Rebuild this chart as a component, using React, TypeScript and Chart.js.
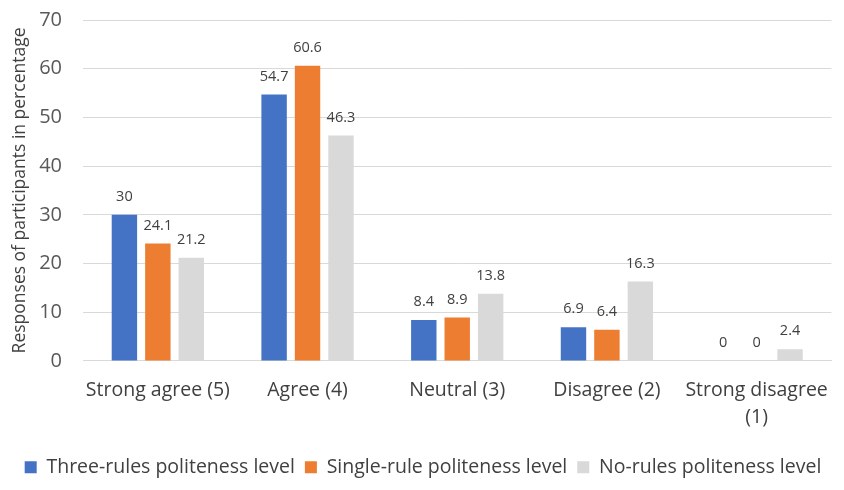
import React, { useEffect, useRef } from "react";
import { Chart, registerables } from "chart.js";

Chart.register(...registerables);

const categories: (string | string[])[] = [
  "Strong agree (5)",
  "Agree (4)",
  "Neutral (3)",
  "Disagree (2)",
  ["Strong disagree", "(1)"],
];
const threeRules = [30, 54.7, 8.4, 6.9, 0];
const singleRule = [24.1, 60.6, 8.9, 6.4, 0];
const noRules = [21.2, 46.3, 13.8, 16.3, 2.4];
const seriesNames = [
  "Three-rules politeness level",
  "Single-rule politeness level",
  "No-rules politeness level",
];
const yTicks = [0, 10, 20, 30, 40, 50, 60, 70];

const FONT = "'Open Sans', 'Noto Sans', sans-serif";

// Writes each bar's value just above it
const valueLabels = {
  id: "valueLabels",
  afterDatasetsDraw(chart: any) {
    const ctx = chart.ctx;
    ctx.save();
    ctx.font = `14.5px ${FONT}`;
    ctx.fillStyle = "#404040";
    ctx.textAlign = "center";
    ctx.textBaseline = "middle";
    chart.data.datasets.forEach((ds: any, i: number) => {
      const meta = chart.getDatasetMeta(i);
      meta.data.forEach((bar: any, j: number) => {
        ctx.fillText(String(ds.data[j]), bar.x, bar.y - 18);
      });
    });
    ctx.restore();
  },
};

export default function App() {
  const ref = useRef<HTMLCanvasElement>(null);

  useEffect(() => {
    if (!ref.current) return;
    const chart = new Chart(ref.current, {
      type: "bar",
      data: {
        labels: categories,
        datasets: [
          { label: seriesNames[0], data: threeRules, backgroundColor: "#4472C4" },
          { label: seriesNames[1], data: singleRule, backgroundColor: "#ED7D31" },
          { label: seriesNames[2], data: noRules, backgroundColor: "#D9D9D9" },
        ],
      },
      options: {
        animation: false,
        responsive: true,
        maintainAspectRatio: false,
        layout: { padding: { top: 0, right: 2, left: 4, bottom: 3 } },
        datasets: {
          bar: { categoryPercentage: 0.67, barPercentage: 0.76 },
        },
        plugins: {
          tooltip: { enabled: false },
          legend: {
            position: "bottom",
            labels: {
              font: { family: FONT, size: 19.5 },
              color: "#404040",
              boxWidth: 12,
              boxHeight: 12,
              padding: 10,
            },
          },
        },
        scales: {
          x: {
            grid: { display: false, drawTicks: false },
            border: { color: "#D9D9D9" },
            ticks: {
              font: { family: FONT, size: 19.5, lineHeight: 1.4 },
              color: "#404040",
              maxRotation: 0,
              padding: 16,
            },
          },
          y: {
            min: 0,
            max: 70,
            afterBuildTicks: (axis: any) => {
              axis.ticks = yTicks.map((v) => ({ value: v }));
            },
            afterFit: (axis: any) => {
              axis.width = 79;
            },
            grid: { color: "#D9D9D9", drawTicks: false },
            border: { display: false },
            ticks: {
              font: { family: FONT, size: 20 },
              color: "#595959",
              padding: 21,
            },
            title: {
              display: true,
              text: "Responses of participants in percentage",
              font: { family: FONT, size: 17.5 },
              color: "#404040",
              padding: { top: 6, bottom: 0 },
            },
          },
        },
      },
      plugins: [valueLabels],
    });
    return () => chart.destroy();
  }, []);

  return (
    <div
      style={{
        position: "fixed",
        left: 0,
        top: -13,
        width: 844,
        height: 503,
        background: "#fff",
      }}
    >
      <canvas ref={ref} />
    </div>
  );
}
